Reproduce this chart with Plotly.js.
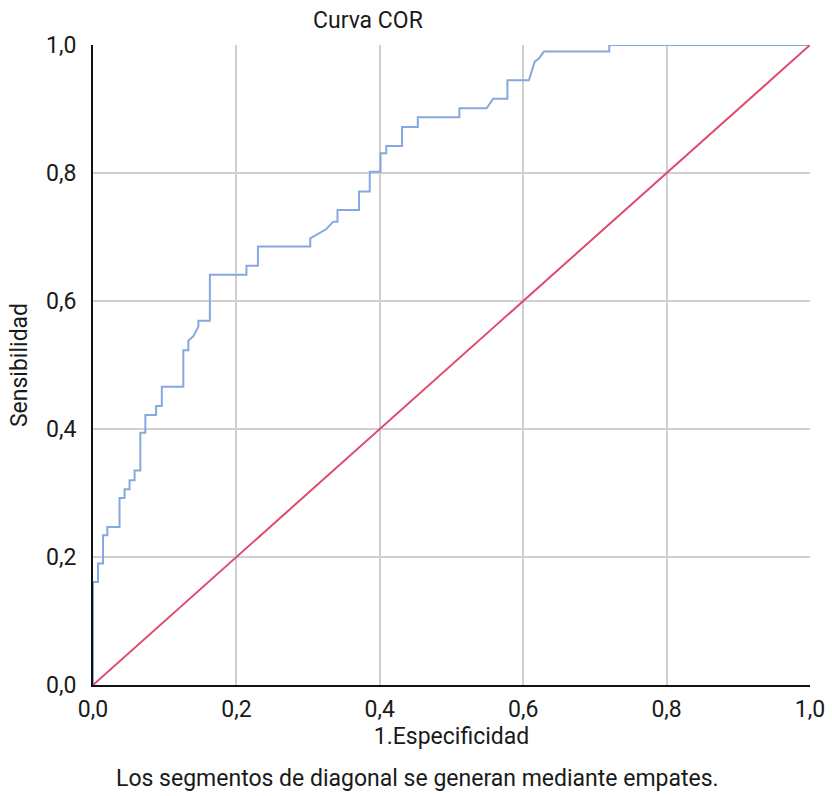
<!DOCTYPE html>
<html>
<head>
<meta charset="utf-8">
<script src="https://cdn.plot.ly/plotly-3.0.1.min.js"></script>
<style>html,body{margin:0;padding:0;background:#fff;}#chart{width:832px;height:796px;}</style>
</head>
<body>
<div id="chart"></div>
<script>
// ROC curve vertices (1 - specificity, sensitivity)
const fpr = [0, 0, 0.007, 0.007, 0.014, 0.014, 0.02, 0.02, 0.037, 0.037, 0.044, 0.044, 0.051, 0.051, 0.058, 0.058, 0.066, 0.066, 0.073, 0.073, 0.088, 0.088, 0.096, 0.096, 0.126, 0.126, 0.133, 0.133, 0.14, 0.147, 0.147, 0.163, 0.163, 0.214, 0.214, 0.23, 0.23, 0.303, 0.303, 0.315, 0.325, 0.335, 0.341, 0.341, 0.371, 0.371, 0.386, 0.386, 0.401, 0.401, 0.409, 0.409, 0.431, 0.431, 0.453, 0.453, 0.511, 0.511, 0.549, 0.558, 0.578, 0.578, 0.608, 0.616, 0.622, 0.629, 0.72, 0.72, 1.0];
const tpr = [0, 0.161, 0.161, 0.19, 0.19, 0.234, 0.234, 0.247, 0.247, 0.292, 0.292, 0.306, 0.306, 0.32, 0.32, 0.335, 0.335, 0.394, 0.394, 0.422, 0.422, 0.436, 0.436, 0.466, 0.466, 0.523, 0.523, 0.538, 0.545, 0.56, 0.569, 0.569, 0.641, 0.641, 0.655, 0.655, 0.685, 0.685, 0.698, 0.705, 0.712, 0.724, 0.724, 0.742, 0.742, 0.771, 0.771, 0.802, 0.802, 0.831, 0.831, 0.842, 0.842, 0.872, 0.872, 0.887, 0.887, 0.901, 0.901, 0.916, 0.916, 0.945, 0.945, 0.974, 0.979, 0.99, 0.99, 1.0, 1.0];
// Reference diagonal
const diagX = [0, 1];
const diagY = [0, 1];
const tickVals = [0, 0.2, 0.4, 0.6, 0.8, 1.0];
const tickText = ["0,0", "0,2", "0,4", "0,6", "0,8", "1,0"];

const font = "Roboto, 'Noto Sans', sans-serif";
const fs = 23;

const traces = [
  {x: fpr, y: tpr, type: 'scatter', mode: 'lines', line: {color: '#85a8e0', width: 2}, showlegend: false},
  {x: diagX, y: diagY, type: 'scatter', mode: 'lines', line: {color: '#e04a6e', width: 2}, showlegend: false}
];

const layout = {
  width: 832, height: 796,
  margin: {l: 93, r: 22, t: 45, b: 111},
  paper_bgcolor: '#fff', plot_bgcolor: '#fff',
  font: {family: font, size: fs, color: '#1a1a1a'},
  showlegend: false,
  xaxis: {
    range: [0, 1], tickvals: tickVals, ticktext: tickText,
    showgrid: true, gridcolor: '#d0d0d0', gridwidth: 2,
    showline: true, linecolor: '#111', linewidth: 2,
    zeroline: false, ticks: '', ticklabelstandoff: 2, layer: 'below traces',
    title: {text: '1.Especificidad', font: {family: font, size: fs, color: '#1a1a1a'}, standoff: 6},
    fixedrange: true
  },
  yaxis: {
    range: [0, 1], tickvals: tickVals, ticktext: tickText,
    showgrid: true, gridcolor: '#d0d0d0', gridwidth: 2,
    showline: true, linecolor: '#111', linewidth: 2,
    zeroline: false, ticks: '', ticklabelstandoff: 10, layer: 'below traces',
    title: {text: 'Sensibilidad', font: {family: font, size: fs, color: '#1a1a1a'}, standoff: 12},
    fixedrange: true
  },
  annotations: [
    {text: 'Curva COR', xref: 'paper', yref: 'paper', x: 0.383, y: 1, yshift: 25, xanchor: 'center', yanchor: 'middle', showarrow: false, font: {family: font, size: fs, color: '#1a1a1a'}},
    {text: 'Los segmentos de diagonal se generan mediante empates.', xref: 'paper', yref: 'paper', x: 0.453, y: 0, yshift: -93, xanchor: 'center', yanchor: 'middle', showarrow: false, font: {family: font, size: fs, color: '#1a1a1a'}}
  ]
};

Plotly.newPlot('chart', traces, layout, {displayModeBar: false, staticPlot: true});
</script>
</body>
</html>
